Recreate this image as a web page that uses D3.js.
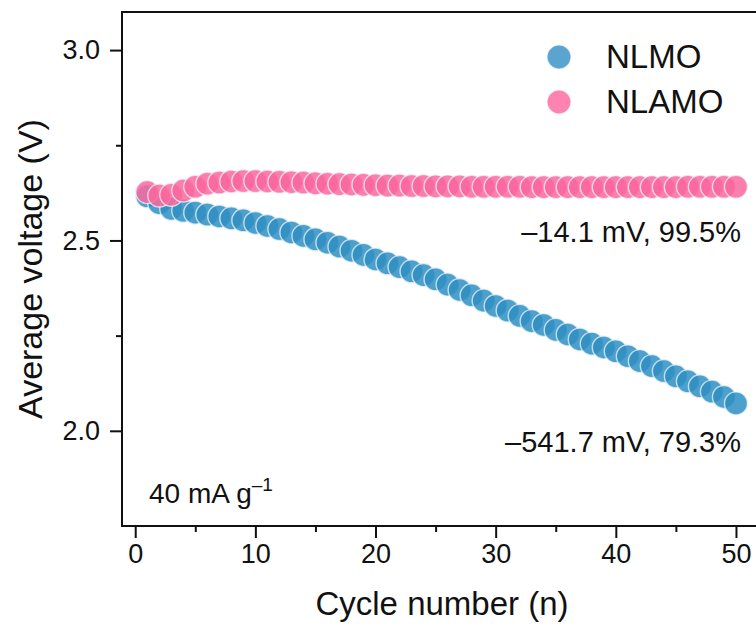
<!DOCTYPE html>
<html><head><meta charset="utf-8">
<script src="https://cdn.jsdelivr.net/npm/d3@7"></script>
<style>
html,body{margin:0;padding:0;background:#fff;overflow:hidden;}
svg text{font-family:"Liberation Sans",Arial,Helvetica,sans-serif;fill:#111;}
</style></head>
<body><svg id="c" width="756" height="626"></svg>
<script>
const cycles = d3.range(1, 51);
const nlmo = [2.616,2.598,2.583,2.578,2.573,2.568,2.563,2.558,2.553,2.546,
              2.538,2.530,2.521,2.512,2.503,2.494,2.484,2.473,2.462,2.450,
              2.440,2.430,2.419,2.409,2.398,2.384,2.370,2.356,2.342,2.328,
              2.316,2.302,2.288,2.278,2.265,2.253,2.240,2.229,2.219,2.209,
              2.196,2.183,2.170,2.157,2.143,2.130,2.117,2.103,2.089,2.072];
const nlamo = [2.627,2.618,2.620,2.631,2.641,2.649,2.652,2.655,2.656,2.656,
               2.655,2.654,2.653,2.652,2.650,2.649,2.648,2.647,2.646,2.645,
               2.644,2.644,2.643,2.643,2.642,2.642,2.642,2.641,2.641,2.641,
               2.641,2.641,2.640,2.640,2.640,2.640,2.640,2.640,2.640,2.640,
               2.640,2.640,2.640,2.640,2.640,2.641,2.641,2.641,2.641,2.641];
const seriesNames = ["NLMO", "NLAMO"];
const xMajorTicks = [0, 10, 20, 30, 40, 50];
const xMinorTicks = [5, 15, 25, 35, 45];
const yMajorTicks = [2.0, 2.5, 3.0];
const yMinorTicks = [1.75, 2.25, 2.75];
const annotations = ["\u201314.1 mV, 99.5%", "\u2013541.7 mV, 79.3%"];

const colors = {NLMO: "#2f8fc3", NLAMO: "#fc679e"};
const svg = d3.select("#c");
const defs = svg.append("defs");
defs.append("filter").attr("id", "soft").attr("x", "-20%").attr("y", "-20%").attr("width", "140%").attr("height", "140%")
  .append("feGaussianBlur").attr("stdDeviation", 0.6);

const L = 122, R = 760, T = 12, B = 526;
const x = d3.scaleLinear().domain([-1.1, 52]).range([L, R]);
const y = d3.scaleLinear().domain([1.75, 3.1]).range([B, T]);

// frame
svg.append("rect").attr("x", L).attr("y", T).attr("width", R - L).attr("height", B - T)
  .attr("fill", "none").attr("stroke", "#111").attr("stroke-width", 2);

// axes
const xAxis = d3.axisBottom(x).tickValues(xMajorTicks).tickSize(12).tickPadding(6).tickFormat(d3.format("d"));
const gx = svg.append("g").attr("transform", `translate(0,${B})`).call(xAxis);
gx.select(".domain").remove();
gx.selectAll(".tick line").attr("stroke", "#111").attr("stroke-width", 2);
gx.selectAll(".tick text").attr("font-size", 27).attr("fill", "#111");
const gxm = svg.append("g").attr("transform", `translate(0,${B})`)
  .call(d3.axisBottom(x).tickValues(xMinorTicks).tickSize(6).tickFormat(""));
gxm.select(".domain").remove();
gxm.selectAll(".tick line").attr("stroke", "#111").attr("stroke-width", 2);

const yAxis = d3.axisLeft(y).tickValues(yMajorTicks).tickSize(12).tickPadding(10).tickFormat(d3.format(".1f"));
const gy = svg.append("g").attr("transform", `translate(${L},0)`).call(yAxis);
gy.select(".domain").remove();
gy.selectAll(".tick line").attr("stroke", "#111").attr("stroke-width", 2);
gy.selectAll(".tick text").attr("font-size", 27).attr("fill", "#111");
const gym = svg.append("g").attr("transform", `translate(${L},0)`)
  .call(d3.axisLeft(y).tickValues(yMinorTicks.filter(v => v > 1.76)).tickSize(6).tickFormat(""));
gym.select(".domain").remove();
gym.selectAll(".tick line").attr("stroke", "#111").attr("stroke-width", 2);

// titles
svg.append("text").attr("x", (L + R) / 2 + 1).attr("y", 615).attr("text-anchor", "middle")
  .attr("font-size", 33).text("Cycle number (n)");
svg.append("text").attr("transform", `translate(42,${(T + B) / 2}) rotate(-90)`)
  .attr("text-anchor", "middle").attr("font-size", 34).text("Average voltage (V)");

// points
const data = [
  {name: "NLMO", vals: nlmo},
  {name: "NLAMO", vals: nlamo}
];
data.forEach(s => {
  svg.append("g").attr("filter", "url(#soft)").selectAll("circle").data(s.vals).join("circle")
    .attr("cx", (d, i) => x(cycles[i]))
    .attr("cy", d => y(d))
    .attr("r", 11.5)
    .attr("fill", colors[s.name]).attr("fill-opacity", 0.85)
    .attr("stroke", "#eef6fb").attr("stroke-opacity", 0.75).attr("stroke-width", 1.4);
});

// legend
seriesNames.forEach((n, i) => {
  svg.append("circle").attr("cx", 559).attr("cy", 57 + i * 45).attr("r", 12)
    .attr("fill", colors[n]).attr("fill-opacity", 0.8).attr("filter", "url(#soft)")
    .attr("stroke", "#fff").attr("stroke-opacity", 0.7).attr("stroke-width", 1.2);
  svg.append("text").attr("x", 606).attr("y", 68 + i * 45).attr("font-size", 33).text(n);
});

// annotations
svg.append("text").attr("x", 741).attr("y", 242).attr("text-anchor", "end").attr("font-size", 29).text(annotations[0]);
svg.append("text").attr("x", 741).attr("y", 452).attr("text-anchor", "end").attr("font-size", 29).text(annotations[1]);
const t40 = svg.append("text").attr("x", 149).attr("y", 503).attr("font-size", 28);
t40.append("tspan").text("40 mA g");
t40.append("tspan").attr("dy", -12).attr("font-size", 19).text("\u20131");
</script></body></html>
